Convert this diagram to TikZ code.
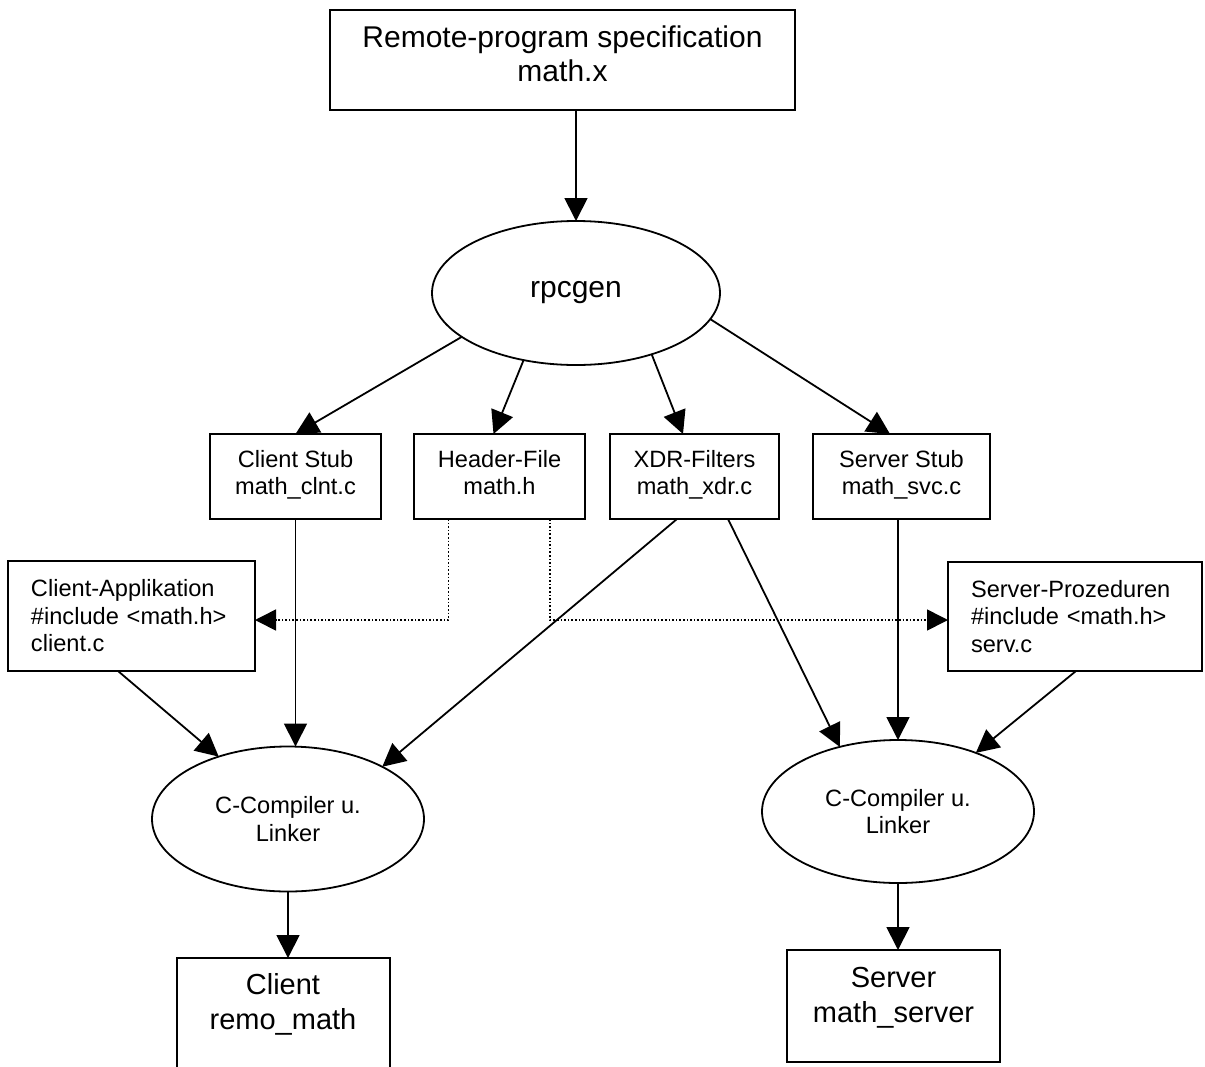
\documentclass[tikz,border=0pt]{standalone}
\usepackage{fontspec}
\setmainfont{Liberation Sans}
\usetikzlibrary{arrows.meta,shapes.geometric,calc}

\begin{document}
\begin{tikzpicture}[x=0.5pt,y=-0.5pt,
  every node/.style={inner sep=0pt, outer sep=0pt},
  box/.style={draw, line width=0.9pt, rectangle},
  oval/.style={draw, line width=0.9pt, ellipse},
  bigtxt/.style={font=\fontsize{15}{17}\selectfont, align=center},
  ovaltxt/.style={font=\fontsize{11.8}{13.75}\selectfont, align=center},
  smalltxt/.style={font=\fontsize{11.8}{13.75}\selectfont, align=center,
                   execute at begin node=\strut, execute at end node=\strut},
  lefttxt/.style={font=\fontsize{11.8}{13.75}\selectfont, align=left},
  bottxt/.style={font=\fontsize{14.5}{17.5}\selectfont, align=center},
  flow/.style={line width=0.9pt, -{Triangle[length=11.5pt,width=11.5pt]}},
  include/.style={line width=0.8pt, dash pattern=on 0.8pt off 1pt,
                  -{Triangle[length=10.5pt,width=10.5pt]}},
]
\useasboundingbox (0,0) rectangle (1205,1066);
\clip (0,0) rectangle (1205,1066);

% specification and generator
\node[box, minimum width=232.5pt, minimum height=50pt] (spec) at (562.5,60) {};
\node[bigtxt] (spectxt) at (562.5,53.5) {Remote-program specification\\math.x};
\node[oval, bigtxt, minimum width=144pt, minimum height=72pt] (rpc) at (576,293) {rpcgen};

% generated files
\node[box, smalltxt, minimum width=85.5pt, minimum height=42.5pt] (cstub) at (295.5,476.5) {Client Stub\\math\_clnt.c};
\node[box, smalltxt, minimum width=85.5pt, minimum height=42.5pt] (hdr) at (499.5,476.5) {Header-File\\math.h};
\node[box, smalltxt, minimum width=84.5pt, minimum height=42.5pt] (xdr) at (694.5,476.5) {XDR-Filters\\math\_xdr.c};
\node[box, smalltxt, minimum width=88.5pt, minimum height=42.5pt] (sstub) at (901.5,476.5) {Server Stub\\math\_svc.c};

% hand-written sources
\node[box, lefttxt, minimum width=123.5pt, minimum height=55pt, text width=100.5pt] (capp) at (131.5,616)
  {Client-Applikation\\\#include <math.h>\\client.c};
\node[box, lefttxt, minimum width=127pt, minimum height=54.5pt, text width=104pt] (sproc) at (1075,616.5)
  {Server-Prozeduren\\\#include <math.h>\\serv.c};

% compilers
\node[oval, ovaltxt, minimum width=136pt, minimum height=72.5pt] (lcc) at (288,819) {C-Compiler u.\\Linker};
\node[oval, ovaltxt, minimum width=136pt, minimum height=71.5pt] (rcc) at (898,811.5) {C-Compiler u.\\Linker};

% resulting programs
\node[box, anchor=north, minimum width=106.5pt, minimum height=70pt] (client) at (283.5,958) {};
\node[bottxt] (clienttxt) at (283,1004) {Client\\remo\_math};
\node[box, minimum width=106.5pt, minimum height=56pt] (server) at (893.5,1006) {};
\node[bottxt] (servertxt) at (893.5,997.5) {Server\\math\_server};

% generation
\draw[flow] (rpc.north |- spec.south) -- (rpc.north);
\draw[flow] (rpc.201.9) -- (cstub.north);
\draw[flow] (rpc.232.2) -- ($(hdr.north)+(-6,0)$);
\draw[flow] (rpc.-39.6) -- ($(xdr.north)+(-11.5,0)$);
\draw[flow] (rpc.-11) -- ($(sstub.north)+(-11.5,0)$);

% header inclusion
\draw[include] ($(hdr.south)+(-51,0)$) |- ($(capp.east)+(0,4)$);
\draw[include] ($(hdr.south)+(50.5,0)$) |- ($(sproc.west)+(0,3.5)$);

% compilation
\draw[flow] (cstub.south) -- (cstub.south |- lcc.north);
\draw[flow] ($(capp.south)+(-13.5,0)$) -- (lcc.138.6);
\draw[flow] ($(xdr.south)+(-17.5,0)$) -- (lcc.29);
\draw[flow] ($(xdr.south)+(33.5,0)$) -- (rcc.132.9);
\draw[flow] (rcc.north |- sstub.south) -- (rcc.north);
\draw[flow] ($(sproc.south)+(1,0)$) -- (rcc.37.1);

% linking
\draw[flow] (lcc.south) -- (lcc.south |- client.north);
\draw[flow] (rcc.south) -- (rcc.south |- server.north);
\end{tikzpicture}
\end{document}
